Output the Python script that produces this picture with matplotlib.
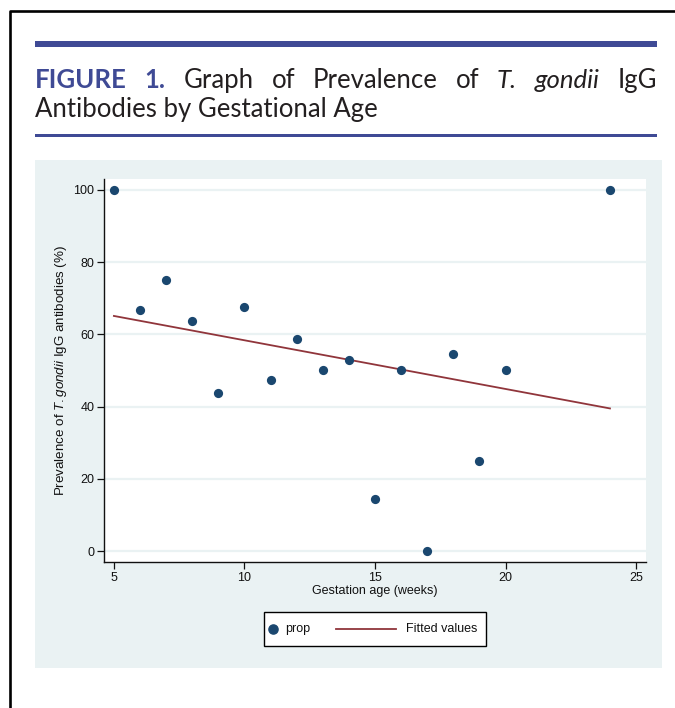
import matplotlib
matplotlib.use("Agg")
import matplotlib.pyplot as plt
from matplotlib.patches import Rectangle
from matplotlib.lines import Line2D
import numpy as np

# data
weeks = [5, 6, 7, 8, 9, 10, 11, 12, 13, 14, 15, 16, 17, 18, 19, 20, 24]
prop = [100, 66.7, 75, 63.6, 43.8, 67.6, 47.5, 58.8, 50, 53, 14.3, 50, 0, 54.5, 25, 50, 100]
fit_x = [5, 24]
fit_y = [65.1, 39.5]
xticks = [5, 10, 15, 20, 25]
yticks = [0, 20, 40, 60, 80, 100]

navy = "#1a476f"
maroon = "#90353b"
panel = "#eaf2f3"
blue = "#3f4a95"
ink = "#231f20"

plt.rcParams["font.family"] = ["Liberation Sans", "DejaVu Sans"]
plt.rcParams["mathtext.fontset"] = "custom"
plt.rcParams["mathtext.rm"] = "Liberation Sans"
plt.rcParams["mathtext.it"] = "Liberation Sans:italic"

W, H = 675, 708
fig = plt.figure(figsize=(W / 100, H / 100), dpi=100)
fig.patch.set_facecolor("white")


def fx(px):
    return px / W


def fy(py):
    return 1 - py / H


# outer frame (clipped at right and bottom)
fig.add_artist(Line2D([fx(10), fx(10), fx(W + 5)], [fy(H + 5), fy(11), fy(11)],
                      color="black", lw=1.9, transform=fig.transFigure))

# blue rules
fig.add_artist(Rectangle((fx(35), fy(47)), fx(657) - fx(35), fy(41) - fy(47),
                         transform=fig.transFigure, color=blue, lw=0))
fig.add_artist(Rectangle((fx(35), fy(137)), fx(657) - fx(35), fy(134) - fy(137),
                         transform=fig.transFigure, color=blue, lw=0))

# grey-blue graph region
fig.add_artist(Rectangle((fx(35), fy(668)), fx(662) - fx(35), fy(160) - fy(668),
                         transform=fig.transFigure, color=panel, lw=0, zorder=0))

# title, justified on line 1
tfont = ["Lato", "DejaVu Sans"]
renderer = fig.canvas.get_renderer()
probe = fig.text(0, 0, "Antibodies by Gestational Age", fontsize=20, family=tfont)
w = probe.get_window_extent(renderer).width
probe.remove()
tsize = 20 * 343 / w

fig.text(fx(35), fy(117), "Antibodies by Gestational Age", fontsize=tsize,
         family=tfont, color=ink, va="baseline", ha="left")

words = [("FIGURE", blue, "bold", "normal"), ("1.", blue, "bold", "normal"),
         ("Graph", ink, "normal", "normal"), ("of", ink, "normal", "normal"),
         ("Prevalence", ink, "normal", "normal"), ("of", ink, "normal", "normal"),
         ("T.", ink, "normal", "italic"), ("gondii", ink, "normal", "italic"),
         ("IgG", ink, "normal", "normal")]
arts = []
for s, c, wt, st in words:
    t = fig.text(0, fy(88), s, fontsize=tsize, family=tfont, color=c,
                 fontweight=wt, fontstyle=st, va="baseline", ha="left")
    arts.append(t)
widths = [a.get_window_extent(renderer).width for a in arts]
gap = (657 - 35 - sum(widths)) / (len(arts) - 1)
xpos = 35
for a, wd in zip(arts, widths):
    a.set_x(fx(xpos))
    xpos += wd + gap

# plot area
ax = fig.add_axes([fx(104), fy(562), fx(646) - fx(104), fy(179) - fy(562)])
ax.set_facecolor("white")
ax.set_xlim(4.62, 25.38)
ax.set_ylim(-3.0, 103.0)
ax.set_xticks(xticks)
ax.set_yticks(yticks)
ax.grid(axis="y", color=panel, lw=1.6, zorder=0)
ax.set_axisbelow(True)
for s in ["top", "right"]:
    ax.spines[s].set_visible(False)
for s in ["left", "bottom"]:
    ax.spines[s].set_linewidth(1.0)
    ax.spines[s].set_color("#111111")
ax.tick_params(length=5, width=0.9, colors="#111111", labelsize=9, pad=2)

ax.plot(fit_x, fit_y, color=maroon, lw=1.3, zorder=2)
ax.scatter(weeks, prop, s=44, color=navy, zorder=3, linewidths=0)

ax.set_xlabel("Gestation age (weeks)", fontsize=9, labelpad=1, color="#111111")
ax.set_ylabel(r"Prevalence of $\mathit{T.gondii}$ IgG antibodies (%)", fontsize=9.6,
              labelpad=3, color="#111111")

# legend box
fig.add_artist(Rectangle((fx(264), fy(646)), fx(486) - fx(264), fy(612) - fy(646),
                         transform=fig.transFigure, facecolor="white",
                         edgecolor="black", lw=1.0))
fig.add_artist(Line2D([fx(273)], [fy(629)], marker="o", ms=6.6, color=navy,
                      ls="none", transform=fig.transFigure))
fig.text(fx(285), fy(629), "prop", fontsize=9, va="center", ha="left", color="#111111")
fig.add_artist(Line2D([fx(336), fx(396)], [fy(629), fy(629)], color=maroon, lw=1.3,
                      transform=fig.transFigure))
fig.text(fx(406), fy(629), "Fitted values", fontsize=9, va="center", ha="left",
         color="#111111")

fig.savefig("out.png", dpi=100)
